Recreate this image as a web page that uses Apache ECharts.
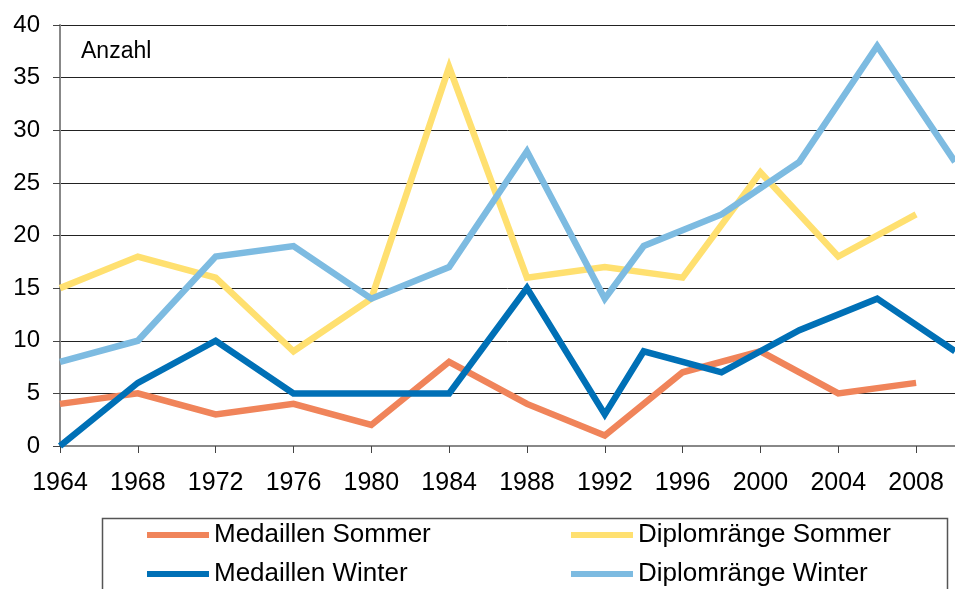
<!DOCTYPE html>
<html>
<head>
<meta charset="utf-8">
<script src="https://cdn.jsdelivr.net/npm/echarts@6/dist/echarts.min.js"></script>
<style>
html,body{margin:0;padding:0;background:#fff;}
#chart{width:955px;height:589px;}
</style>
</head>
<body>
<div id="chart"></div>
<script>
// Data
var summerYears = [1964, 1968, 1972, 1976, 1980, 1984, 1988, 1992, 1996, 2000, 2004, 2008];
var winterYears = [1964, 1968, 1972, 1976, 1980, 1984, 1988, 1992, 1994, 1998, 2002, 2006, 2010];
var medaillenSommer  = [4, 5, 3, 4, 2, 8, 4, 1, 7, 9, 5, 6];
var diplomSommer     = [15, 18, 16, 9, 14, 36, 16, 17, 16, 26, 18, 22];
var medaillenWinter  = [0, 6, 10, 5, 5, 5, 15, 3, 9, 7, 11, 14, 9];
var diplomWinter     = [8, 10, 18, 19, 14, 17, 28, 14, 19, 22, 27, 38, 27];
var seriesNames = ['Medaillen Sommer', 'Diplomränge Sommer', 'Medaillen Winter', 'Diplomränge Winter'];
var yTicks = [0, 5, 10, 15, 20, 25, 30, 35, 40];

function pairs(xs, ys) { return xs.map(function (x, i) { return [x, ys[i]]; }); }

var FONT = '"Liberation Sans", Arial, sans-serif';
var colors = ['#F0845A', '#FFE070', '#0070B6', '#7DBBE1'];

var chart = echarts.init(document.getElementById('chart'), null, {renderer: 'canvas'});

function lineSeries(name, data, color) {
  return {
    name: name, type: 'line', data: data,
    showSymbol: false, symbol: 'none',
    lineStyle: {color: color, width: 6.5, join: 'miter'},
    itemStyle: {color: color},
    animation: false
  };
}

function legendCol(names, left) {
  return {
    data: names,
    orient: 'vertical', left: left, top: 521, height: 120, padding: 0,
    itemWidth: 62, itemHeight: 6, itemGap: 11, icon: 'rect',
    textStyle: {fontSize: 26, fontFamily: FONT, color: '#000', lineHeight: 28},
    selectedMode: false
  };
}

var option = {
  animation: false,
  backgroundColor: '#fff',
  grid: {left: 60, right: -9, top: 25, bottom: 143, containLabel: false},
  xAxis: {
    type: 'value', min: 1964, max: 2010, interval: 4,
    axisLine: {show: true, lineStyle: {color: '#888', width: 2}},
    axisTick: {show: true, length: 7, lineStyle: {color: '#444', width: 1}},
    axisLabel: {
      margin: 25, fontSize: 25, fontFamily: FONT, color: '#000',
      showMaxLabel: false,
      formatter: function (v) { return v % 4 === 0 ? String(v) : ''; }
    },
    splitLine: {show: false}
  },
  yAxis: {
    type: 'value', min: yTicks[0], max: yTicks[yTicks.length - 1], interval: 5,
    axisLine: {show: true, lineStyle: {color: '#888', width: 2}},
    axisTick: {show: true, length: 7, lineStyle: {color: '#444', width: 1}},
    axisLabel: {margin: 20, fontSize: 24, fontFamily: FONT, color: '#000'},
    splitLine: {show: true, lineStyle: {color: '#222', width: 1}}
  },
  legend: [
    legendCol([seriesNames[0], seriesNames[2]], 147),
    legendCol([seriesNames[1], seriesNames[3]], 571)
  ],
  graphic: [
    {
      type: 'rect', left: 100, top: 516, silent: true,
      shape: {width: 845, height: 100},
      style: {fill: 'none', stroke: '#555', lineWidth: 1.5}
    },
    {
      type: 'text', left: 81, top: 40, silent: true,
      style: {text: 'Anzahl', font: '23px ' + FONT, fill: '#000'}
    }
  ],
  series: [
    lineSeries(seriesNames[0], pairs(summerYears, medaillenSommer), colors[0]),
    lineSeries(seriesNames[1], pairs(summerYears, diplomSommer), colors[1]),
    lineSeries(seriesNames[2], pairs(winterYears, medaillenWinter), colors[2]),
    lineSeries(seriesNames[3], pairs(winterYears, diplomWinter), colors[3])
  ]
};
chart.setOption(option);
</script>
</body>
</html>
